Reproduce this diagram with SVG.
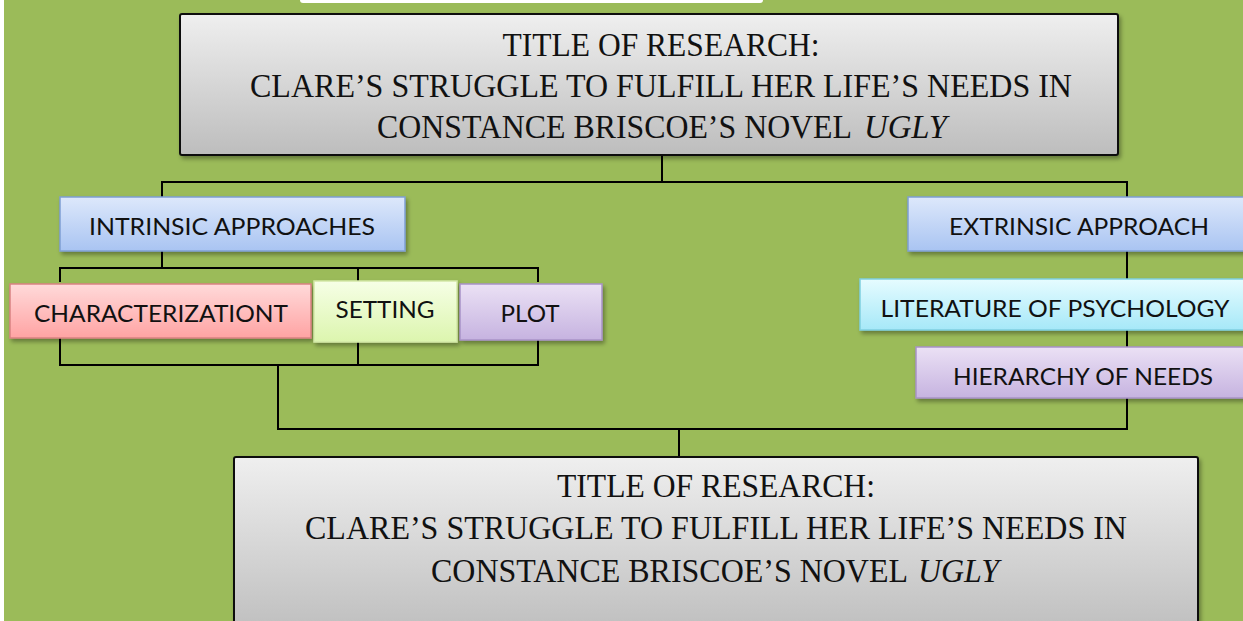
<svg xmlns="http://www.w3.org/2000/svg" width="1243" height="621" viewBox="0 0 1243 621">
<defs>
<linearGradient id="gGray" x1="0" y1="0" x2="0" y2="1"><stop offset="0" stop-color="#efefef"/><stop offset="1" stop-color="#bdbdbd"/></linearGradient>
<linearGradient id="gBlue" x1="0" y1="0" x2="0" y2="1"><stop offset="0" stop-color="#dde8fb"/><stop offset="1" stop-color="#a9c4f2"/></linearGradient>
<linearGradient id="gRed" x1="0" y1="0" x2="0" y2="1"><stop offset="0" stop-color="#ffdada"/><stop offset="1" stop-color="#ffa3a3"/></linearGradient>
<linearGradient id="gGreen" x1="0" y1="0" x2="0" y2="1"><stop offset="0" stop-color="#f6ffe6"/><stop offset="1" stop-color="#dcf5ae"/></linearGradient>
<linearGradient id="gPurple" x1="0" y1="0" x2="0" y2="1"><stop offset="0" stop-color="#ebe1f5"/><stop offset="1" stop-color="#c6b3e0"/></linearGradient>
<linearGradient id="gCyan" x1="0" y1="0" x2="0" y2="1"><stop offset="0" stop-color="#e6fcff"/><stop offset="1" stop-color="#a6e8f8"/></linearGradient>
<filter id="shadow" x="-5%" y="-10%" width="110%" height="130%"><feDropShadow dx="2" dy="3" stdDeviation="2" flood-color="#000" flood-opacity="0.35"/></filter>
</defs>
<style>
.serif{font-family:"Liberation Serif","Times New Roman",serif;font-size:33px;fill:#111;text-anchor:middle}
.st{text-anchor:start}
.it{font-style:italic}
.sans{font-family:Lato,"Open Sans","Liberation Sans",sans-serif;font-size:23px;fill:#111;text-anchor:middle}
.title{fill:url(#gGray);stroke:#111;stroke-width:2;filter:url(#shadow)}
.box{stroke-width:1.5;filter:url(#shadow)}
.conn{fill:none;stroke:#000;stroke-width:2}
</style>
<rect x="0" y="0" width="1243" height="621" fill="#9bbb59"/>
<rect x="0" y="0" width="4" height="621" fill="#ffffff"/>
<rect x="300" y="-6" width="463" height="9" rx="3" fill="#ffffff"/>

<g id="connectors">
<path class="conn" d="M662 155V182M162 197V182H1127V197"/>
<path class="conn" d="M162 251V268M60 282V268H538V282M358 268V282"/>
<path class="conn" d="M60 334V365H538V334M358 334V365M278 365V429H1127V182M679 429V457"/>
</g>

<g id="title-top">
<rect class="title" x="180" y="14" width="938" height="141" rx="2"/>
<text class="serif" x="661" y="56" textLength="317" lengthAdjust="spacingAndGlyphs">TITLE OF RESEARCH:</text>
<text class="serif" x="661" y="97" textLength="822" lengthAdjust="spacingAndGlyphs">CLARE’S STRUGGLE TO FULFILL HER LIFE’S NEEDS IN</text>
<text class="serif st" x="377" y="138" textLength="475" lengthAdjust="spacingAndGlyphs">CONSTANCE BRISCOE’S NOVEL</text>
<text class="serif st it" x="864" y="138" textLength="83" lengthAdjust="spacingAndGlyphs">UGLY</text>
</g>

<g id="intrinsic">
<rect class="box" x="60" y="197" width="345" height="54" fill="url(#gBlue)" stroke="#7f9fd3"/>
<text class="sans" x="232" y="235" textLength="286" lengthAdjust="spacingAndGlyphs">INTRINSIC APPROACHES</text>
</g>

<g id="extrinsic">
<rect class="box" x="908" y="197" width="340" height="54" fill="url(#gBlue)" stroke="#7f9fd3"/>
<text class="sans" x="1079" y="235" textLength="260" lengthAdjust="spacingAndGlyphs">EXTRINSIC APPROACH</text>
</g>

<g id="characterization">
<rect class="box" x="10" y="284" width="301" height="54" fill="url(#gRed)" stroke="#d98282"/>
<text class="sans" x="161" y="322" textLength="254" lengthAdjust="spacingAndGlyphs">CHARACTERIZATIONT</text>
</g>

<g id="setting">
<rect class="box" x="314" y="281" width="143" height="61" fill="url(#gGreen)" stroke="#d3e8a8"/>
<text class="sans" x="385" y="318" textLength="99" lengthAdjust="spacingAndGlyphs">SETTING</text>
</g>

<g id="plot">
<rect class="box" x="460" y="284" width="142" height="56" fill="url(#gPurple)" stroke="#a893c7"/>
<text class="sans" x="530" y="322" textLength="59" lengthAdjust="spacingAndGlyphs">PLOT</text>
</g>

<g id="literature">
<rect class="box" x="860" y="279" width="388" height="51" fill="url(#gCyan)" stroke="#7fcfe0"/>
<text class="sans" x="1055" y="317" textLength="349" lengthAdjust="spacingAndGlyphs">LITERATURE OF PSYCHOLOGY</text>
</g>

<g id="hierarchy">
<rect class="box" x="916" y="347" width="332" height="51" fill="url(#gPurple)" stroke="#a893c7"/>
<text class="sans" x="1083" y="385" textLength="260" lengthAdjust="spacingAndGlyphs">HIERARCHY OF NEEDS</text>
</g>

<g id="title-bottom">
<rect class="title" x="234" y="457" width="964" height="180" rx="2"/>
<text class="serif" x="716" y="497" textLength="318" lengthAdjust="spacingAndGlyphs">TITLE OF RESEARCH:</text>
<text class="serif" x="716" y="539" textLength="822" lengthAdjust="spacingAndGlyphs">CLARE’S STRUGGLE TO FULFILL HER LIFE’S NEEDS IN</text>
<text class="serif st" x="431" y="582" textLength="477" lengthAdjust="spacingAndGlyphs">CONSTANCE BRISCOE’S NOVEL</text>
<text class="serif st it" x="918" y="582" textLength="81" lengthAdjust="spacingAndGlyphs">UGLY</text>
</g>
</svg>
